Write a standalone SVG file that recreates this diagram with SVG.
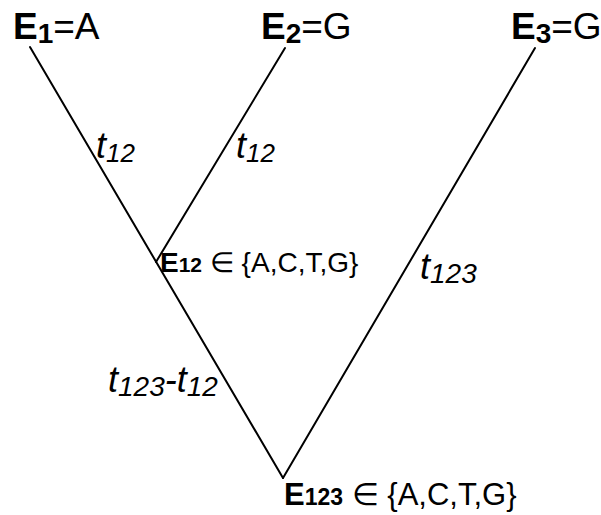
<svg xmlns="http://www.w3.org/2000/svg" width="601" height="515" viewBox="0 0 601 515">
<style>
.txt{font-family:"Liberation Sans",Arial,Helvetica,sans-serif;fill:#000}
.b{font-weight:bold}
.it{font-style:italic}
.edge{stroke:#000;stroke-width:2;fill:none;stroke-linecap:round}
</style>
<rect width="601" height="515" fill="#fff"/>
<g id="connectors">
<line class="edge" x1="30" y1="47" x2="283" y2="478"/>
<line class="edge" x1="535" y1="48" x2="283" y2="478"/>
<line class="edge" x1="285" y1="48" x2="156" y2="262"/>
</g>
<g id="node-E1">
<text class="txt" x="13" y="39" font-size="37"><tspan class="b">E</tspan><tspan class="b" font-size="28" dy="4">1</tspan><tspan dy="-4">=A</tspan></text>
</g>
<g id="node-E2">
<text class="txt" x="261" y="39" font-size="37"><tspan class="b">E</tspan><tspan class="b" font-size="28" dy="4">2</tspan><tspan dy="-4">=G</tspan></text>
</g>
<g id="node-E3">
<text class="txt" x="511" y="39" font-size="37"><tspan class="b">E</tspan><tspan class="b" font-size="28" dy="4">3</tspan><tspan dy="-4">=G</tspan></text>
</g>
<g id="label-t12-left">
<text class="txt it" x="96" y="158" font-size="36">t<tspan font-size="26" dy="4">12</tspan></text>
</g>
<g id="label-t12-right">
<text class="txt it" x="236" y="158" font-size="36">t<tspan font-size="26" dy="4">12</tspan></text>
</g>
<g id="node-E12">
<text class="txt" x="160" y="272" font-size="28"><tspan class="b">E</tspan><tspan class="b" font-size="21">12</tspan> ∈ {A,C,T,G}</text>
</g>
<g id="label-t123">
<text class="txt it" x="420" y="279" font-size="36">t<tspan font-size="28" dy="4">123</tspan></text>
</g>
<g id="label-t123-t12">
<text class="txt it" x="108" y="392" font-size="36">t<tspan font-size="28" dy="4">123</tspan><tspan dy="-4">-t</tspan><tspan font-size="28" dy="4">12</tspan></text>
</g>
<g id="node-E123">
<text class="txt" x="284" y="505" font-size="31"><tspan class="b">E</tspan><tspan class="b" font-size="23">123</tspan> ∈ {A,C,T,G}</text>
</g>
</svg>
